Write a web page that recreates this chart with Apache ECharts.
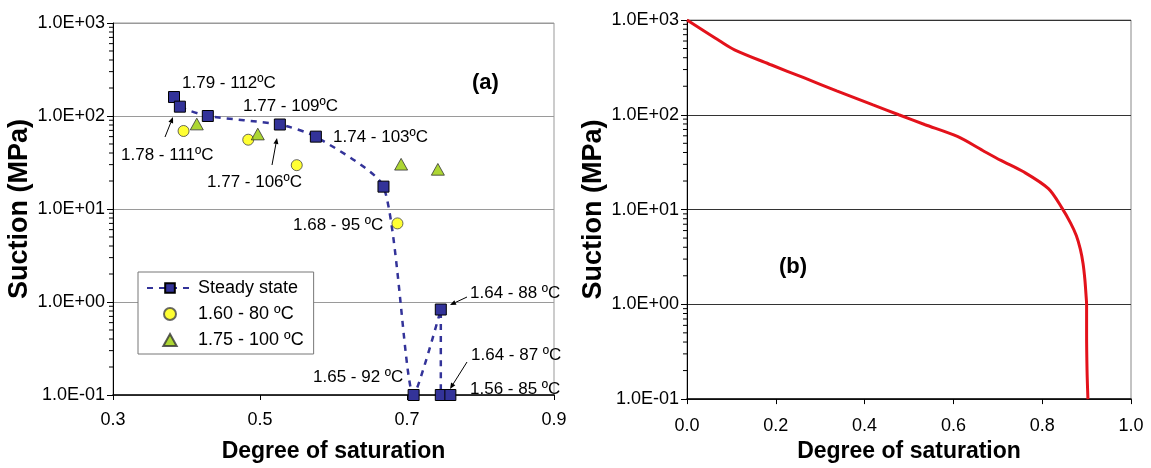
<!DOCTYPE html>
<html>
<head>
<meta charset="utf-8">
<script src="https://cdn.jsdelivr.net/npm/echarts@6/dist/echarts.min.js"></script>
<style>
html,body{margin:0;padding:0;background:#fff;}
#c{width:1151px;height:468px;}
</style>
</head>
<body>
<div id="c"></div>
<script>
// ---------- data ----------
const seriesNames = ['Steady state', '1.60 - 80 ºC', '1.75 - 100 ºC'];
const steadySat     = [0.383, 0.391, 0.429, 0.527, 0.576, 0.668, 0.709, 0.746, 0.746, 0.759];
const steadySuction = [160, 126, 100, 81, 60, 17.4, 0.1, 0.83, 0.1, 0.1];
const sat80         = [0.396, 0.484, 0.550, 0.687];
const suction80     = [69, 55.6, 29.6, 7.0];
const sat100        = [0.414, 0.497, 0.692, 0.742];
const suction100    = [82, 64, 30.3, 26.7];
const curveSat      = [0, 0.074, 0.107, 0.189, 0.263, 0.337, 0.419, 0.477, 0.535, 0.609, 0.666, 0.707, 0.758, 0.814, 0.845, 0.864, 0.877, 0.886, 0.892, 0.896, 0.899, 0.900, 0.900, 0.901, 0.903];
const curveSuction  = [1000, 600, 485, 337, 246, 179, 127, 100, 79, 59, 42, 33, 25, 16.6, 10.3, 7.2, 5.3, 3.8, 2.7, 1.85, 1.2, 1.0, 0.5, 0.2, 0.1];
const annotationsA = [
  ['1.79 - 112ºC', 182, 83], ['1.77 - 109ºC', 243, 106], ['1.74 - 103ºC', 333, 137],
  ['1.78 - 111ºC', 121, 155], ['1.77 - 106ºC', 207, 182], ['1.68 - 95 ºC', 293, 225],
  ['1.64 - 88 ºC', 470, 293], ['1.64 - 87 ºC', 471, 355], ['1.56 - 85 ºC', 470, 389],
  ['1.65 - 92 ºC', 313, 377]
];
const arrowsA = [[165,137,173,117],[272,165,277,138],[467,297,450,305],[467,362,450,389]];

// minor log ticks (axis decoration)
const minorVals = [];
for (let e = -1; e < 3; e++) for (let m = 2; m <= 9; m++) minorVals.push(m * Math.pow(10, e));

const zip = (a, b) => a.map((v, i) => [v, b[i]]);
const FONT = '"Liberation Sans", Arial, sans-serif';
const expFmt = v => {
  const e = Math.round(Math.log10(v));
  const s = e < 0 ? '-' : '+';
  const a = Math.abs(e);
  return '1.0E' + s + (a < 10 ? '0' + a : a);
};

function yAxis(gridIndex, splitColor) {
  return {
    type: 'log', gridIndex, min: 0.1, max: 1000, logBase: 10,
    axisLine: { show: true, lineStyle: { color: '#000', width: 1 } },
    axisTick: { show: true, inside: false, length: 6, lineStyle: { color: '#000' } },
    axisLabel: { formatter: expFmt, fontFamily: FONT, fontSize: 18, color: '#000', margin: 8 },
    splitLine: { show: true, lineStyle: { color: splitColor, width: 1 } },
    name: 'Suction (MPa)', nameLocation: 'middle', nameGap: 76, nameRotate: 90,
    nameTextStyle: { fontFamily: FONT, fontSize: 27, fontWeight: 'bold', color: '#000' }
  };
}
function xAxis(gridIndex, min, max, interval, nameGap, margin) {
  return {
    type: 'value', gridIndex, min, max, interval,
    axisLine: { show: true, onZero: false, lineStyle: { color: '#000', width: 1.5 } },
    axisTick: { show: true, inside: false, length: 5, lineStyle: { color: '#000' } },
    axisLabel: { formatter: v => v.toFixed(1), fontFamily: FONT, fontSize: 18, color: '#000', margin },
    splitLine: { show: false },
    name: 'Degree of saturation', nameLocation: 'middle', nameGap,
    nameTextStyle: { fontFamily: FONT, fontSize: 23, fontWeight: 'bold', color: '#000' }
  };
}
function minorTicks(xi, xmin) {
  return {
    type: 'custom', xAxisIndex: xi, yAxisIndex: xi, silent: true, clip: false, z: 5,
    data: minorVals.map(v => [xmin, v]),
    renderItem: (params, api) => {
      const p = api.coord([api.value(0), api.value(1)]);
      return { type: 'line', shape: { x1: p[0] - 4, y1: p[1], x2: p[0], y2: p[1] },
               style: { stroke: '#000', lineWidth: 1 } };
    }
  };
}

const graphics = [];
annotationsA.forEach(([t, x, y]) => graphics.push({
  type: 'text', x, y, z: 100,
  style: { text: t, font: '17px ' + FONT, fill: '#000', align: 'left', verticalAlign: 'middle' }
}));
graphics.push({ type: 'text', x: 472, y: 83, z: 100,
  style: { text: '(a)', font: 'bold 22px ' + FONT, fill: '#000', align: 'left', verticalAlign: 'middle' } });
graphics.push({ type: 'text', x: 779, y: 267, z: 100,
  style: { text: '(b)', font: 'bold 22px ' + FONT, fill: '#000', align: 'left', verticalAlign: 'middle' } });
arrowsA.forEach(([x1, y1, x2, y2]) => {
  const ang = Math.atan2(y2 - y1, x2 - x1), L = 6, W = 2.5;
  const bx = x2 - L * Math.cos(ang), by = y2 - L * Math.sin(ang);
  const nx = -Math.sin(ang) * W, ny = Math.cos(ang) * W;
  graphics.push({ type: 'line', z: 100, shape: { x1, y1, x2: bx, y2: by }, style: { stroke: '#000', lineWidth: 1 } });
  graphics.push({ type: 'polygon', z: 100, shape: { points: [[x2, y2], [bx + nx, by + ny], [bx - nx, by - ny]] }, style: { fill: '#000' } });
});

const TRI = 'path://M5,0L10,9L0,9Z';

const option = {
  animation: false,
  backgroundColor: '#fff',
  grid: [
    { left: 113, right: 597, top: 23, bottom: 68, show: true, borderColor: '#999', borderWidth: 1, containLabel: false },
    { left: 687, right: 20, top: 20, bottom: 62, show: true, borderColor: '#888', borderWidth: 1, containLabel: false }
  ],
  xAxis: [ xAxis(0, 0.3, 0.9, 0.2, 45, 16), xAxis(1, 0, 1, 0.2, 40, 18) ],
  yAxis: [ yAxis(0, '#9a9a9a'), yAxis(1, '#333') ],
  legend: {
    show: true,
    data: [
      { name: seriesNames[0] },
      { name: seriesNames[1], icon: 'path://M5,0A5,5,0,1,1,4.99,0Z' },
      { name: seriesNames[2], icon: TRI }
    ],
    left: 138, top: 272, orient: 'vertical',
    padding: [6, 10, 4, 8], itemGap: 6, itemWidth: 46, itemHeight: 12,
    symbolKeepAspect: true,
    backgroundColor: '#fff', borderColor: '#777', borderWidth: 1, borderRadius: 0,
    textStyle: { fontFamily: FONT, fontSize: 18, color: '#000', lineHeight: 20 }
  },
  series: [
    {
      name: seriesNames[0], type: 'line', xAxisIndex: 0, yAxisIndex: 0,
      data: zip(steadySat, steadySuction), smooth: 0.2,
      symbol: 'rect', symbolSize: 11,
      lineStyle: { color: '#333399', width: 2.5, type: [6, 6] },
      itemStyle: { color: '#333399', borderColor: '#000', borderWidth: 1 },
      z: 3
    },
    {
      name: seriesNames[1], type: 'scatter', xAxisIndex: 0, yAxisIndex: 0,
      data: zip(sat80, suction80), symbol: 'circle', symbolSize: 11, symbolKeepAspect: true,
      itemStyle: { color: '#ffff00', borderColor: '#444', borderWidth: 1 }, z: 4
    },
    {
      name: seriesNames[2], type: 'scatter', xAxisIndex: 0, yAxisIndex: 0,
      data: zip(sat100, suction100), symbol: TRI, symbolSize: 13, symbolKeepAspect: true,
      itemStyle: { color: '#99cc00', borderColor: '#333', borderWidth: 1 }, z: 4
    },
    {
      name: 'curve', type: 'line', xAxisIndex: 1, yAxisIndex: 1,
      data: zip(curveSat, curveSuction), smooth: 0.3, showSymbol: false, symbol: 'none',
      lineStyle: { color: '#e3121b', width: 3 }, z: 3
    },
    minorTicks(0, 0.3),
    minorTicks(1, 0)
  ],
  graphic: graphics
};

const chart = echarts.init(document.getElementById('c'), null, { renderer: 'canvas' });
chart.setOption(option);
</script>
</body>
</html>
